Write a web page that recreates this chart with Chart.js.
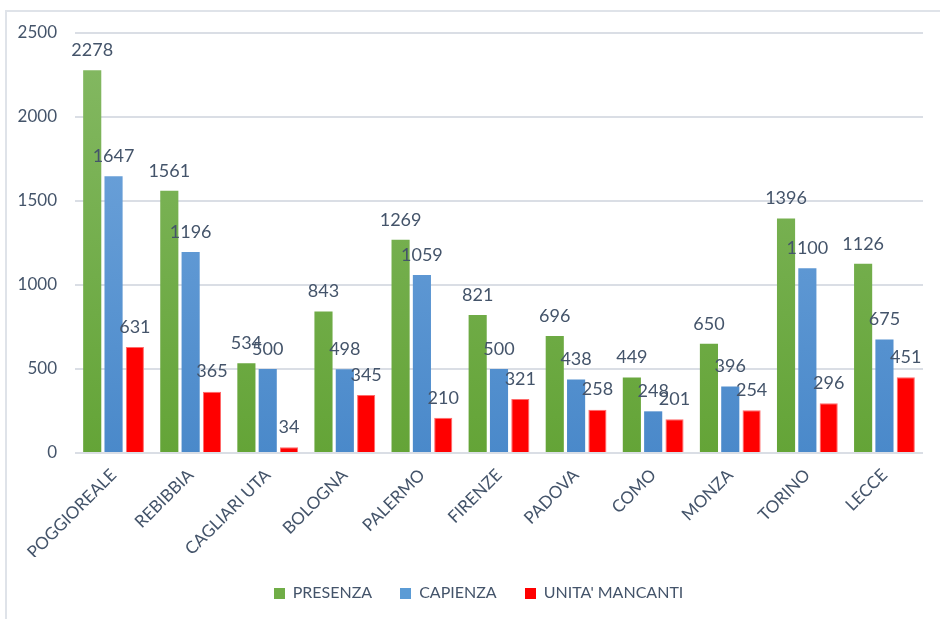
<!DOCTYPE html>
<html>
<head>
<meta charset="utf-8">
<script src="https://cdn.jsdelivr.net/npm/chart.js@4.4.1/dist/chart.umd.min.js"></script>
<style>
    html, body { margin: 0; padding: 0; background: #ffffff; }
    #wrap { position: relative; width: 940px; height: 619px; }
    #frame {
        position: absolute; left: 5px; top: 10px; right: 0; bottom: 0;
        border-left: 2px solid #dfe3e9; border-top: 2px solid #dfe3e9;
    }
    canvas { position: absolute; left: 0; top: 0; }
</style>
</head>
<body>
<div id="wrap">
    <div id="frame"></div>
    <canvas id="chart" width="940" height="619"></canvas>
</div>
<script>
const categories = ["POGGIOREALE", "REBIBBIA", "CAGLIARI UTA", "BOLOGNA", "PALERMO",
    "FIRENZE", "PADOVA", "COMO", "MONZA", "TORINO", "LECCE"];
const presenza = [2278, 1561, 534, 843, 1269, 821, 696, 449, 650, 1396, 1126];
const capienza = [1647, 1196, 500, 498, 1059, 500, 438, 248, 396, 1100, 675];
const unitaMancanti = [631, 365, 34, 345, 210, 321, 258, 201, 254, 296, 451];
const yTicks = [0, 500, 1000, 1500, 2000, 2500];

const textColor = "#44546a";
const fontFamily = "Lato, 'Open Sans', sans-serif";

function gradient(top, bottom) {
    return (ctx) => {
        const { chart } = ctx;
        const area = chart.chartArea;
        if (!area) {
            return bottom;
        }
        const g = chart.ctx.createLinearGradient(0, area.top, 0, area.bottom);
        g.addColorStop(0, top);
        g.addColorStop(1, bottom);
        return g;
    };
}

// value labels above every bar
const barLabels = {
    id: "barLabels",
    afterDatasetsDraw(chart) {
        const ctx = chart.ctx;
        ctx.save();
        ctx.font = "18px " + fontFamily;
        ctx.fillStyle = textColor;
        ctx.textAlign = "center";
        ctx.textBaseline = "middle";
        chart.data.datasets.forEach((ds, i) => {
            const meta = chart.getDatasetMeta(i);
            meta.data.forEach((bar, j) => {
                ctx.fillText(String(ds.data[j]), bar.x, bar.y - 20);
            });
        });
        ctx.restore();
    },
};

// legend sits centred on the whole frame, not on the padded box
const shiftLegend = {
    id: "shiftLegend",
    afterLayout(chart) {
        if (chart.legend) {
            chart.legend.left += 17;
            chart.legend.right += 17;
        }
    },
};

const legendSquare = (color) => {
    const c = document.createElement("canvas");
    c.width = 11;
    c.height = 11;
    const g = c.getContext("2d");
    g.fillStyle = color;
    g.fillRect(0, 0, 11, 11);
    return c;
};

new Chart(document.getElementById("chart"), {
    type: "bar",
    data: {
        labels: categories,
        datasets: [
            {
                label: "PRESENZA",
                data: presenza,
                backgroundColor: gradient("#85b964", "#64a437"),
                legendColor: "#70ad47",
            },
            {
                label: "CAPIENZA",
                data: capienza,
                backgroundColor: gradient("#76a9de", "#4a89ca"),
                legendColor: "#5b9bd5",
            },
            {
                label: "UNITA' MANCANTI",
                data: unitaMancanti,
                backgroundColor: "#ff0000",
                borderColor: "#ff6b6b",
                borderWidth: 1,
                legendColor: "#ff0000",
            },
        ],
    },
    options: {
        responsive: false,
        animation: false,
        layout: { padding: { top: 33, right: 17, left: 0, bottom: 8 } },
        datasets: {
            bar: { categoryPercentage: 0.83, barPercentage: 0.85 },
        },
        scales: {
            x: {
                grid: { display: false },
                border: { display: false },
                ticks: {
                    color: textColor,
                    font: { family: fontFamily, size: 17 },
                    minRotation: 45,
                    maxRotation: 45,
                    padding: 4,
                },
                afterFit: (scale) => { scale.height = 104; },
            },
            y: {
                min: 0,
                max: 2500,
                afterBuildTicks: (scale) => {
                    scale.ticks = yTicks.map((v) => ({ value: v }));
                },
                grid: { color: "#dadee5", lineWidth: 2, drawTicks: false },
                border: { display: false },
                ticks: {
                    color: textColor,
                    font: { family: fontFamily, size: 17 },
                    padding: 18,
                    callback: (v) => String(v),
                },
                afterFit: (scale) => { scale.width = 75; },
            },
        },
        plugins: {
            tooltip: { enabled: false },
            legend: {
                position: "bottom",
                labels: {
                    color: textColor,
                    font: { family: fontFamily, size: 16 },
                    padding: 28,
                    boxWidth: 11,
                    boxHeight: 11,
                    usePointStyle: true,
                    generateLabels: (chart) =>
                        chart.data.datasets.map((ds, i) => ({
                            text: ds.label,
                            fontColor: textColor,
                            pointStyle: legendSquare(ds.legendColor),
                            datasetIndex: i,
                            hidden: false,
                        })),
                },
            },
        },
    },
    plugins: [barLabels, shiftLegend],
});
</script>
</body>
</html>
